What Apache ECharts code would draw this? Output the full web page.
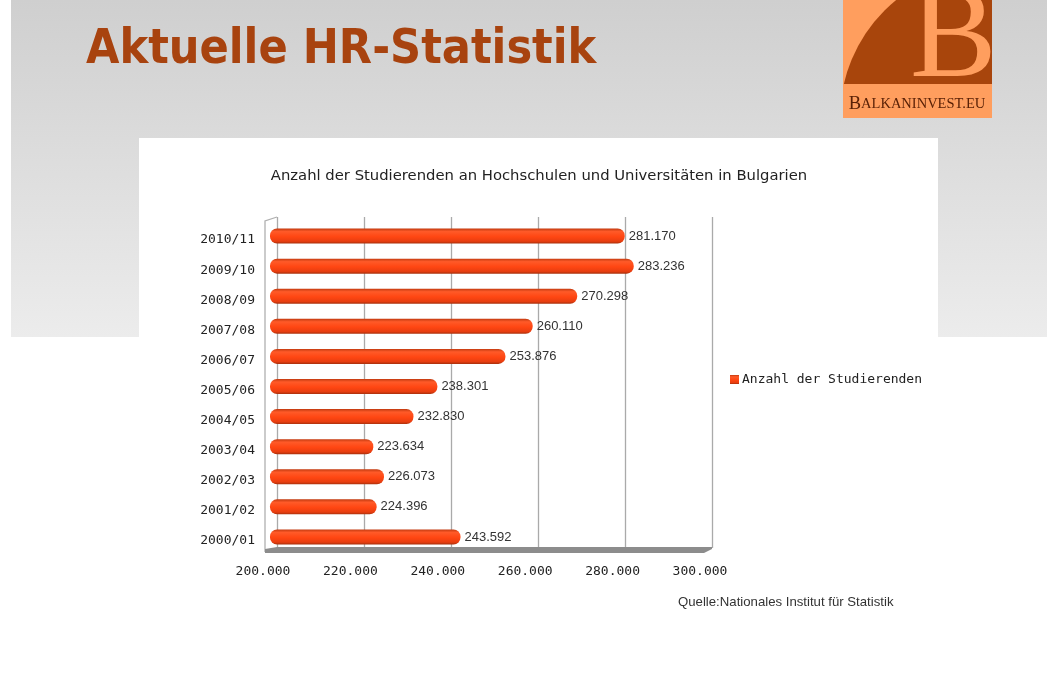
<!DOCTYPE html>
<html>
<head>
<meta charset="utf-8">
<script src="https://cdn.jsdelivr.net/npm/echarts@6/dist/echarts.min.js"></script>
<style>
  html, body { margin: 0; padding: 0; background: #fff; }
  #main { width: 1058px; height: 675px; }
</style>
</head>
<body>
<div id="main"></div>
<script>
// Studierende je Studienjahr (von unten nach oben)
var years = ['2000/01', '2001/02', '2002/03', '2003/04', '2004/05', '2005/06',
             '2006/07', '2007/08', '2008/09', '2009/10', '2010/11'];
var students = [243592, 224396, 226073, 223634, 232830, 238301,
                253876, 260110, 270298, 283236, 281170];
var axisMin = 200000;
var axisMax = 300000;
var axisStep = 20000;

function fmt(v) {
  var s = String(Math.round(v));
  return s.replace(/\B(?=(\d{3})+(?!\d))/g, '.');
}

var myChart = echarts.init(document.getElementById('main'));

var mono = 'DejaVu Sans Mono';

var option = {
  animation: false,
  title: {
    text: 'Anzahl der Studierenden an Hochschulen und Universitäten in Bulgarien',
    left: 534,
    textAlign: 'center',
    top: 164,
    textStyle: { fontFamily: 'DejaVu Sans', fontSize: 14.8, fontWeight: 'normal', color: '#222' }
  },
  legend: {
    left: 725,
    top: 368,
    icon: 'rect',
    itemWidth: 9,
    itemHeight: 9,
    itemGap: 4,
    textStyle: { fontFamily: mono, fontSize: 13, color: '#222', padding: [0, 0, 0, -2] },
    data: ['Anzahl der Studierenden']
  },
  grid: [
    // Balken (vordere Ebene)
    { left: 270, right: 351, top: 221, bottom: 123 },
    // Rückwand mit Gitterlinien
    { left: 277, right: 346, top: 217, bottom: 127 }
  ],
  xAxis: [{
    type: 'value',
    gridIndex: 0,
    min: axisMin,
    max: axisMax,
    interval: axisStep,
    startValue: axisMin,
    axisLine: { show: false },
    axisTick: { show: false },
    splitLine: { show: false },
    axisLabel: {
      formatter: fmt,
      fontFamily: mono,
      fontSize: 13,
      color: '#222',
      margin: 13,
      padding: [0, 14, 0, 0]
    }
  }, {
    type: 'value',
    gridIndex: 1,
    min: axisMin,
    max: axisMax,
    interval: axisStep,
    axisLine: { show: false },
    axisTick: { show: false },
    axisLabel: { show: false },
    splitLine: { show: true, lineStyle: { color: '#aaaaaa', width: 1.3 } }
  }],
  yAxis: [{
    type: 'category',
    gridIndex: 0,
    data: years,
    axisLine: { show: false },
    axisTick: { show: false },
    axisLabel: {
      margin: 15,
      formatter: function (v) { return '{y|' + v + '}'; },
      rich: { y: { fontFamily: mono, fontSize: 13, color: '#222', padding: [8, 0, 0, 0] } }
    }
  }, {
    type: 'category',
    gridIndex: 1,
    data: years,
    show: false
  }],
  series: [{
    name: 'Anzahl der Studierenden',
    type: 'bar',
    xAxisIndex: 0,
    yAxisIndex: 0,
    data: students,
    barWidth: 15,
    z: 5,
    itemStyle: {
      borderRadius: 7,
      color: new echarts.graphic.LinearGradient(0, 0, 0, 1, [
        { offset: 0, color: '#c23a10' },
        { offset: 0.2, color: '#ff5a28' },
        { offset: 0.55, color: '#ff4612' },
        { offset: 0.85, color: '#e83e10' },
        { offset: 1, color: '#a8300c' }
      ])
    },
    label: {
      show: true,
      position: 'right',
      distance: 4,
      formatter: function (p) { return fmt(p.value); },
      fontFamily: 'Liberation Sans',
      fontSize: 13,
      color: '#333'
    }
  }],
  color: ['#ff4612'],
  graphic: [
    // grauer Folienhintergrund
    {
      type: 'rect', z: -20, silent: true,
      shape: { x: 11, y: 0, width: 1036, height: 337 },
      style: {
        fill: new echarts.graphic.LinearGradient(0, 0, 0, 1, [
          { offset: 0, color: '#cfcfcf' },
          { offset: 1, color: '#ececec' }
        ])
      }
    },
    {
      type: 'rect', z: -19, silent: true,
      shape: { x: 139, y: 138, width: 799, height: 537 },
      style: { fill: '#ffffff' }
    },
    // Folientitel
    {
      type: 'text', z: 10, left: 86, top: 27,
      style: {
        text: 'Aktuelle HR-Statistik',
        fontFamily: 'DejaVu Sans Condensed',
        fontWeight: 'bold',
        fontSize: 48,
        fill: '#a8430f'
      }
    },
    // Logo
    {
      type: 'group', z: 10, x: 843, y: 0,
      children: [
        { type: 'rect', shape: { x: 0, y: 0, width: 149, height: 118 }, style: { fill: '#ff9e5e' } },
        {
          type: 'circle',
          shape: { cx: 149, cy: 118, r: 152 },
          style: { fill: '#a8450c' },
          clipPath: { type: 'rect', shape: { x: 0, y: 0, width: 149, height: 84 } }
        },
        {
          type: 'text',
          style: {
            text: 'B', x: 67, y: 107, textVerticalAlign: 'bottom',
            fontFamily: 'Liberation Serif', fontSize: 130, fill: '#ff9e5e'
          },
          clipPath: { type: 'rect', shape: { x: 0, y: 0, width: 149, height: 84 } }
        },
        {
          type: 'text',
          style: {
            text: '{a|B}{b|ALKANINVEST.EU}', x: 74, y: 104,
            textAlign: 'center', textVerticalAlign: 'middle',
            rich: {
              a: { fontFamily: 'Liberation Serif', fontSize: 18.5, fill: '#5a2106', color: '#5a2106' },
              b: { fontFamily: 'Liberation Serif', fontSize: 14.5, fill: '#5a2106', color: '#5a2106' }
            }
          }
        }
      ]
    },
    // linke Wand und Boden (3D-Rahmen)
    {
      type: 'polyline', z: 1, silent: true,
      shape: { points: [[265, 552], [265, 221], [277, 217]] },
      style: { stroke: '#b0b0b0', lineWidth: 1.3, fill: null }
    },
    {
      type: 'polygon', z: 1, silent: true,
      shape: { points: [[265, 549], [277, 547], [712, 547], [712, 549], [704, 553], [265, 553]] },
      style: { fill: '#8c8c8c' }
    },
    // Quelle
    {
      type: 'text', z: 10, left: 678, top: 596,
      style: {
        text: 'Quelle:Nationales Institut für Statistik',
        fontFamily: 'Liberation Sans', fontSize: 13.2, fill: '#333'
      }
    }
  ]
};

myChart.setOption(option);
window.onresize = myChart.resize;
</script>
</body>
</html>
